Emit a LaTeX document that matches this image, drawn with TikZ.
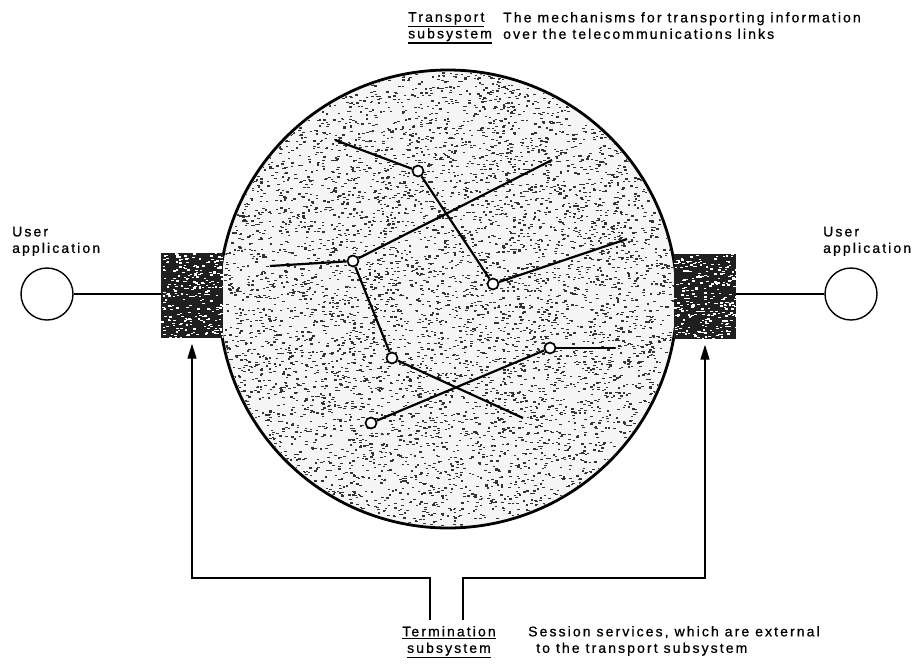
\documentclass[tikz,border=0pt]{standalone}
\usepackage{fontspec}
\setmainfont[LetterSpace=15,FakeBold=0.8]{Liberation Sans}
\usetikzlibrary{calc,arrows.meta}
\newcommand{\uword}[1]{\vtop{\hbox{#1}\kern1.2pt\hrule height 1.1pt}}

\begin{document}
\begin{tikzpicture}[x=1pt,y=-1pt,
  user/.style={circle,draw=black,line width=1.4pt,minimum size=52pt,inner sep=0pt},
  globe/.style={circle,draw=black,line width=2.8pt,fill=black!4,minimum size=458pt,inner sep=0pt},
  termbox/.style={rectangle,fill=black!88,minimum width=62pt,minimum height=85pt,inner sep=0pt},
  hub/.style={circle,draw=black,fill=white,line width=1.7pt,minimum size=11pt,inner sep=0pt},
  link/.style={draw=black,line width=2.2pt},
  wire/.style={draw=black,line width=1.4pt},
  speck/.style={fill=black!80},
  lbl/.style={inner sep=0pt,font=\fontsize{14pt}{16.5pt}\selectfont},
  edge/.style={wire,-{Triangle[length=15pt,width=9pt]},shorten >=6pt}]
\useasboundingbox (0,0) rectangle (921,670);
\pgfmathsetseed{11}
% transport subsystem
\node[globe] (net) at (448,299) {};
\begin{scope}
  \clip (net.center) circle (227);
  \foreach \i in {1,...,7500}
    \fill[speck] ({223+451*rnd},{70+460*rnd}) rectangle ++(2.5,1.3);
\end{scope}
% termination boxes
\node[termbox] (tl) at (192,295) {};
\node[termbox] (tr) at (705,296) {};
\foreach \b in {tl,tr}{
  \begin{scope}
    \clip (\b.south west) rectangle (\b.north east);
    \foreach \i in {1,...,260}
      \fill[white] ($(\b.south west)+({62*rnd},{-85*rnd})$) rectangle ++(2.6,1.3);
  \end{scope}
}
% user applications
\node[user] (ul) at (47,294) {};
\node[user] (ur) at (851,294) {};
\node[lbl,anchor=south west,align=left] (ult) at (12,256) {User\\application};
\node[lbl,anchor=south west,align=left] (urt) at (823,256) {User\\application};
\draw[wire] (ul.east) -- (ul.east -| tl.west);
\draw[wire] (ur.west) -- (ur.west -| tr.east);
% network links
\node[hub] (h1) at (418,171) {};
\node[hub] (h2) at (353,261) {};
\node[hub] (h3) at (493,284) {};
\node[hub] (h4) at (392,358) {};
\node[hub] (h5) at (550,348) {};
\node[hub] (h6) at (371,423) {};
\coordinate (e1) at (335,140);
\coordinate (e2) at (627,239);
\coordinate (e3) at (270,266);
\coordinate (e4) at (552,160);
\coordinate (e5) at (523,418);
\coordinate (e6) at (615,348);
\draw[link] (e1) -- (h1);
\draw[link] (h1) -- (h3);
\draw[link] (h3) -- (e2);
\draw[link] (e3) -- (h2);
\draw[link] (h2) -- (e4);
\draw[link] (h2) -- (h4);
\draw[link] (h4) -- (e5);
\draw[link] (h6) -- (h5);
\draw[link] (h5) -- (e6);
% labels
\node[lbl,anchor=north west,align=left] (tsub) at (408,12) {\uword{Transport}\\\uword{subsystem}};
\node[lbl,anchor=north west,align=left] (tdesc) at (503,12) {The mechanisms for transporting information\\over the telecommunications links};
\node[lbl,anchor=north,align=center] (esub) at (449,626) {\uword{Termination}\\\uword{subsystem}};
\node[lbl,anchor=north west,align=left] (edesc) at (528,626) {Session services, which are external\\\hspace*{8pt}to the transport subsystem};
% termination access
\draw[edge] ($(esub.north)+(-19,-6)$) |- (tl.south |- 0,578) -- (tl.south);
\draw[edge] ($(esub.north)+(14,-6)$) |- (tr.south |- 0,578) -- (tr.south);
\end{tikzpicture}
\end{document}
